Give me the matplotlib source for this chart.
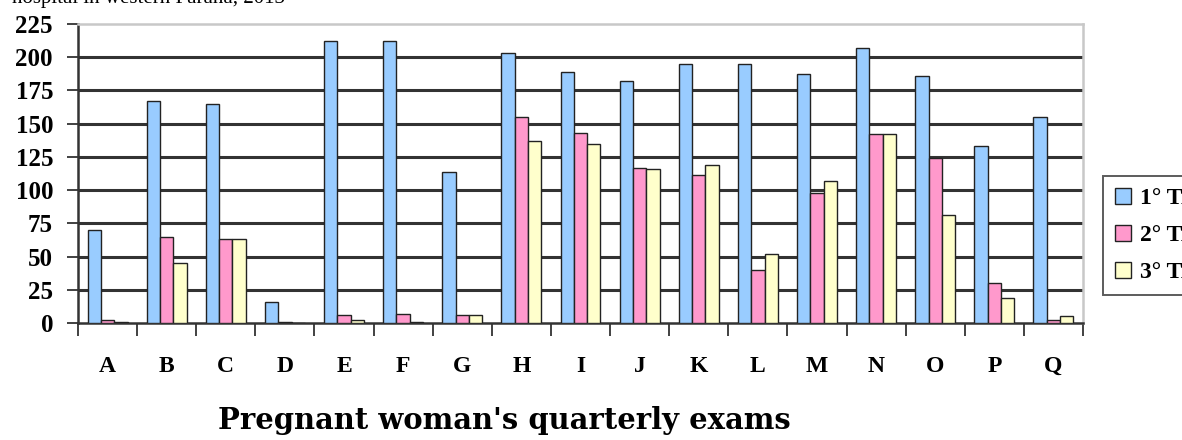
import matplotlib
matplotlib.use("Agg")
import matplotlib.pyplot as plt
import numpy as np

categories = ["A", "B", "C", "D", "E", "F", "G", "H", "I", "J", "K", "L", "M", "N", "O", "P", "Q"]
t1 = [70, 167, 165, 16, 212, 212, 114, 203, 189, 182, 195, 195, 187, 207, 186, 133, 155]
t2 = [2, 65, 63, 1, 6, 7, 6, 155, 143, 117, 111, 40, 98, 142, 124, 30, 2]
t3 = [1, 45, 63, 0, 2, 1, 6, 137, 135, 116, 119, 52, 107, 142, 81, 19, 5]
series_labels = ["1° Trimester", "2° Trimester", "3° Trimester"]
yticks = [0, 25, 50, 75, 100, 125, 150, 175, 200, 225]
title = "Pregnant woman's quarterly exams"
top_text = "hospital in western Paraná, 2013"

plt.rcParams['font.family'] = ['Liberation Serif', 'DejaVu Serif']

W, H = 1182, 440
fig = plt.figure(figsize=(W / 100, H / 100), dpi=100)
ax = fig.add_axes([78 / W, 1 - 323 / H, (1083 - 78) / W, (323 - 24) / H])

x = np.arange(len(categories))
bw = 0.225
colors = ["#99CCFF", "#FF99CC", "#FFFFCC"]
bars = []
for i, (vals, c) in enumerate(zip([t1, t2, t3], colors)):
    b = ax.bar(x + (i - 1) * bw, vals, width=bw, color=c, edgecolor="#222222",
               linewidth=1.0, zorder=3, label=series_labels[i])
    bars.append(b)

ax.set_xlim(-0.5, len(categories) - 0.5)
ax.set_ylim(0, 225)
ax.set_yticks(yticks)
ax.set_yticklabels([str(v) for v in yticks], fontsize=18, fontweight="bold")
for v in yticks[1:-1]:
    ax.axhline(v, color="#333333", linewidth=2.2, zorder=1)

ax.set_xticks(np.arange(len(categories) + 1) - 0.5, minor=True)
ax.set_xticks(x)
ax.set_xticklabels(categories, fontsize=17, fontweight="bold")
ax.tick_params(axis="x", which="major", length=0, pad=24)
ax.tick_params(axis="x", which="minor", length=9, width=1.3, color="#333333", direction="out")
ax.tick_params(axis="y", length=8, width=1.3, color="#333333", direction="out", pad=10)

ax.spines["left"].set_color("#333333")
ax.spines["left"].set_linewidth(1.8)
ax.spines["bottom"].set_color("#333333")
ax.spines["bottom"].set_linewidth(1.8)
ax.spines["top"].set_color("#c8c8c8")
ax.spines["top"].set_linewidth(1.8)
ax.spines["right"].set_color("#c8c8c8")
ax.spines["right"].set_linewidth(1.8)

leg = fig.legend(handles=bars, labels=series_labels, loc="upper left",
                 bbox_to_anchor=(1103 / W, 1 - 176 / H), frameon=True,
                 fancybox=False, prop={"size": 17, "weight": "bold"},
                 handlelength=0.7, handleheight=0.7, handletextpad=0.35,
                 labelspacing=0.65, borderpad=0.5, borderaxespad=0)
leg.get_frame().set_edgecolor("#333333")
leg.get_frame().set_linewidth(1.4)

fig.text(504 / W, 1 - 420 / H, title, ha="center", va="center",
         fontsize=20.9, fontweight="bold", family=["DejaVu Serif"])
fig.text(12 / W, 1 - 3 / H, top_text, ha="left", va="baseline", fontsize=15)

fig.savefig("out.png", dpi=100)
